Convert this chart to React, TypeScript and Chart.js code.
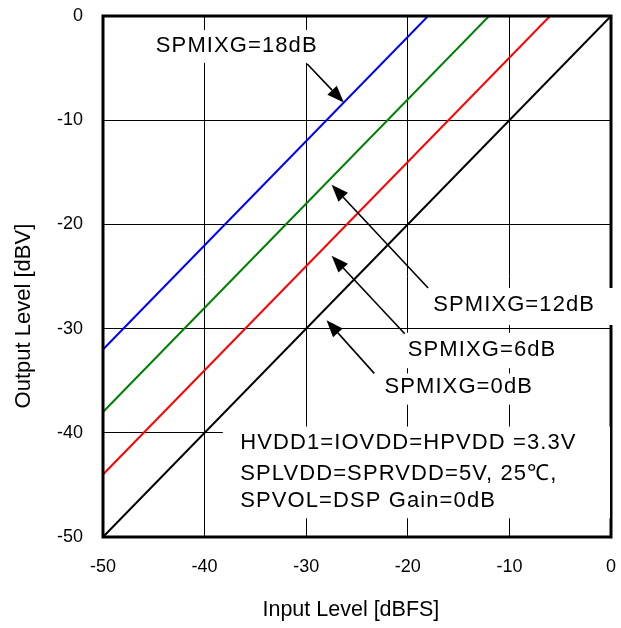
import React, { useEffect, useRef } from "react";
import { Chart, registerables } from "chart.js";

Chart.register(...registerables);

// ---- data ----
const inputMin = -50;
const inputMax = 0;
const outputMin = -50;
const outputMax = 0;
const tickStep = 10;

const seriesNames = ["SPMIXG=0dB", "SPMIXG=6dB", "SPMIXG=12dB", "SPMIXG=18dB"];
const seriesColors = ["#000000", "#ff0000", "#008000", "#0000ff"];

const input0 = [-50, 0];
const output0 = [-50, 0];
const input6 = [-50, -6];
const output6 = [-44, 0];
const input12 = [-50, -12];
const output12 = [-38, 0];
const input18 = [-50, -18];
const output18 = [-32, 0];

const xTitle = "Input Level [dBFS]";
const yTitle = "Output Level [dBV]";
const noteLines = ["HVDD1=IOVDD=HPVDD =3.3V", "SPLVDD=SPRVDD=5V, 25\u2103,", "SPVOL=DSP Gain=0dB"];

// annotation placement in data coordinates
const labelText = ["SPMIXG=18dB", "SPMIXG=12dB", "SPMIXG=6dB", "SPMIXG=0dB"];
const labelX = [-44.8, -17.5, -20.0, -22.3];
const labelY = [-2.9, -27.7, -32.0, -35.6];
const arrowTail = [[-29.9, -4.6], [-18.0, -26.1], [-20.3, -30.5], [-23.3, -34.3]];
const arrowTip = [[-26.3, -8.3], [-27.5, -16.2], [-27.5, -23.0], [-28.0, -29.2]];
const labelBox = [
  [-45.4, -1.35, -28.2, -4.5],
  [-18.3, -26.1, 1.1, -29.65],
  [-20.8, -30.4, -4.5, -33.8],
  [-23.5, -34.3, -7.0, -37.3],
];
const noteX = -36.5;
const noteY = [-41.0, -43.95, -46.5];
const noteBox = [-38.2, -39.4, -0.1, -48.2];

const FONT = "'Liberation Sans', Arial, Helvetica, sans-serif";

function toPoints(xs: number[], ys: number[]) {
  return xs.map((v, i) => ({ x: v, y: ys[i] }));
}

const overlayPlugin = {
  id: "overlay",
  afterDatasetsDraw(chart: any) {
    const { ctx, chartArea: a } = chart;
    const xs = chart.scales.x;
    const ys = chart.scales.y;
    const px = (v: number) => xs.getPixelForValue(v);
    const py = (v: number) => ys.getPixelForValue(v);
    ctx.save();
    // frame
    ctx.strokeStyle = "#000";
    ctx.lineWidth = 3;
    ctx.strokeRect(a.left, a.top, a.right - a.left, a.bottom - a.top);
    // white boxes
    ctx.fillStyle = "#fff";
    const boxes = [...labelBox, noteBox];
    for (const b of boxes) {
      const x0 = px(b[0]);
      const y0 = py(b[1]);
      const x1 = px(b[2]);
      const y1 = py(b[3]);
      ctx.fillRect(x0, y0, x1 - x0, y1 - y0);
    }
    // labels
    ctx.fillStyle = "#000";
    ctx.font = `22px ${FONT}`;
    try {
      (ctx as any).letterSpacing = "1.1px";
    } catch (e) {}
    ctx.textBaseline = "middle";
    ctx.textAlign = "left";
    labelText.forEach((t, i) => {
      ctx.fillText(t, px(labelX[i]), py(labelY[i]));
    });
    noteLines.forEach((t, i) => {
      ctx.fillText(t, px(noteX), py(noteY[i]));
    });
    try {
      (ctx as any).letterSpacing = "0px";
    } catch (e) {}
    // arrows
    ctx.strokeStyle = "#000";
    ctx.lineWidth = 1.6;
    arrowTail.forEach((tail, i) => {
      const tip = arrowTip[i];
      const x0 = px(tail[0]);
      const y0 = py(tail[1]);
      const x1 = px(tip[0]);
      const y1 = py(tip[1]);
      const ang = Math.atan2(y1 - y0, x1 - x0);
      const len = 17;
      const hw = 6.5;
      const bx = x1 - len * Math.cos(ang);
      const by = y1 - len * Math.sin(ang);
      ctx.beginPath();
      ctx.moveTo(x0, y0);
      ctx.lineTo(bx, by);
      ctx.stroke();
      ctx.beginPath();
      ctx.moveTo(x1, y1);
      ctx.lineTo(bx + hw * Math.sin(ang), by - hw * Math.cos(ang));
      ctx.lineTo(bx - hw * Math.sin(ang), by + hw * Math.cos(ang));
      ctx.closePath();
      ctx.fill();
    });
    // axis titles
    ctx.font = `21.5px ${FONT}`;
    ctx.textAlign = "center";
    ctx.textBaseline = "middle";
    ctx.fillText(xTitle, px(-25.6), 610);
    ctx.save();
    ctx.translate(24, py(-28.8));
    ctx.rotate(-Math.PI / 2);
    ctx.font = `22px ${FONT}`;
    ctx.fillText(yTitle, 0, 0);
    ctx.restore();
    ctx.restore();
  },
};

export default function App() {
  const ref = useRef<HTMLCanvasElement | null>(null);
  useEffect(() => {
    document.body.style.margin = "0";
    const canvas = ref.current!;
    const inputs = [input0, input6, input12, input18];
    const outputs = [output0, output6, output12, output18];
    const chart = new Chart(canvas, {
      type: "scatter",
      data: {
        datasets: seriesNames.map((name, i) => ({
          label: name,
          data: toPoints(inputs[i], outputs[i]),
          showLine: true,
          borderColor: seriesColors[i],
          backgroundColor: seriesColors[i],
          borderWidth: 2,
          pointRadius: 0,
          fill: false,
        })),
      },
      options: {
        responsive: false,
        animation: false,
        devicePixelRatio: 1,
        layout: { padding: { top: 16, right: 10, bottom: 0, left: 0 } },
        plugins: { legend: { display: false }, tooltip: { enabled: false } },
        scales: {
          x: {
            type: "linear",
            min: inputMin,
            max: inputMax,
            afterFit: (s: any) => {
              s.height = 91;
              s.paddingLeft = 0;
              s.paddingRight = 0;
            },
            ticks: { stepSize: tickStep, color: "#000", padding: 19, font: { family: FONT, size: 18 } },
            grid: { color: "#000", lineWidth: 1, drawTicks: false },
            border: { display: false },
            title: { display: false, text: xTitle },
          },
          y: {
            type: "linear",
            min: outputMin,
            max: outputMax,
            afterFit: (s: any) => {
              s.width = 103;
              s.paddingTop = 0;
              s.paddingBottom = 0;
            },
            ticks: { stepSize: tickStep, color: "#000", padding: 20, font: { family: FONT, size: 18 } },
            grid: { color: "#000", lineWidth: 1, drawTicks: false },
            border: { display: false },
            title: { display: false, text: yTitle },
          },
        },
      },
      plugins: [overlayPlugin],
    });
    return () => chart.destroy();
  }, []);
  return (
    <div style={{ width: 621, height: 628, background: "#fff" }}>
      <canvas ref={ref} width={621} height={628} style={{ display: "block" }} />
    </div>
  );
}
